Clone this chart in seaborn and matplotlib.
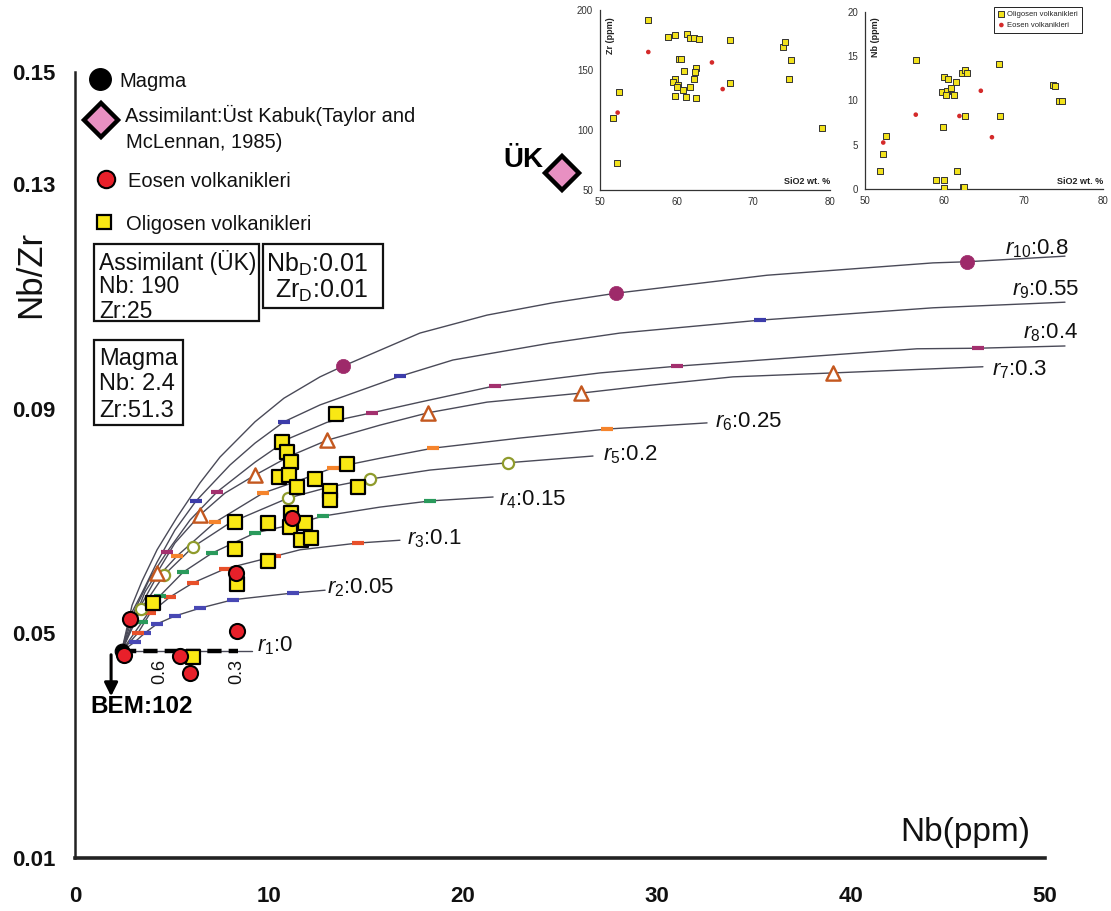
import numpy as np
import pandas as pd
import matplotlib
matplotlib.use("Agg")
import matplotlib.pyplot as plt
import seaborn as sns
from matplotlib.patches import Rectangle
from matplotlib.lines import Line2D
from matplotlib.ticker import FixedLocator

# ---------------- data ----------------
magma_nb = [2.4]
magma_ratio = [0.0468]

eosen_nb = [2.84, 8.35, 2.53, 5.41, 5.93, 11.19, 8.30]
eosen_ratio = [0.0526, 0.0504, 0.0462, 0.0460, 0.0429, 0.0706, 0.0608]

oligo_nb = [13.45, 10.67, 10.93, 11.13, 10.52, 11.03, 11.44, 12.37, 14.02, 13.14, 13.14, 14.59,
            8.25, 9.95, 11.13, 11.08, 11.86, 11.65, 12.16, 8.25, 9.95, 8.35, 4.02, 6.08]
oligo_ratio = [0.0891, 0.0841, 0.0823, 0.0805, 0.0779, 0.0782, 0.0761, 0.0775, 0.0802, 0.0754, 0.0738, 0.0761,
               0.0698, 0.0697, 0.0714, 0.0690, 0.0697, 0.0666, 0.0670, 0.0650, 0.0629, 0.0588, 0.0554, 0.0458]

# AFC model curves (Nb ppm, Nb/Zr)
r1_nb = [2.4, 9.1]
r1_ratio = [0.0468, 0.0468]
r2_nb = [2.4, 3.09, 3.61, 4.23, 5.15, 6.44, 8.14, 11.24, 12.89]
r2_ratio = [0.0468, 0.0485, 0.0501, 0.0517, 0.0531, 0.0545, 0.0560, 0.0572, 0.0577]
r3_nb = [2.4, 3.25, 3.87, 4.90, 6.08, 7.73, 9.90, 11.60, 14.59, 16.75]
r3_ratio = [0.0468, 0.0501, 0.0536, 0.0565, 0.0590, 0.0615, 0.0634, 0.0649, 0.0661, 0.0666]
r4_nb = [2.4, 3.45, 4.38, 5.57, 7.06, 9.28, 11.60, 12.78, 15.72, 18.30, 21.55]
r4_ratio = [0.0468, 0.0520, 0.0567, 0.0609, 0.0643, 0.0679, 0.0697, 0.0709, 0.0725, 0.0736, 0.0743]
r5_nb = [2.4, 3.40, 4.59, 6.08, 7.99, 10.98, 13.14, 15.21, 18.30, 22.32, 26.70]
r5_ratio = [0.0468, 0.0543, 0.0604, 0.0654, 0.0697, 0.0741, 0.0761, 0.0775, 0.0791, 0.0804, 0.0816]
r6_nb = [2.4, 3.35, 4.12, 5.26, 7.22, 9.69, 11.60, 13.30, 15.72, 18.45, 22.94, 27.42, 32.58]
r6_ratio = [0.0468, 0.0547, 0.0595, 0.0638, 0.0698, 0.0750, 0.0773, 0.0795, 0.0812, 0.0830, 0.0848, 0.0864, 0.0875]
r7_nb = [2.4, 3.09, 3.61, 4.23, 5.15, 6.44, 7.73, 9.28, 11.08, 12.99, 15.72, 18.20, 21.24, 26.08,
         29.64, 33.92, 39.07, 46.80]
r7_ratio = [0.0468, 0.0529, 0.0574, 0.0608, 0.0661, 0.0711, 0.0750, 0.0782, 0.0816, 0.0844, 0.0871, 0.0893,
            0.0912, 0.0928, 0.0942, 0.0957, 0.0964, 0.0975]
r8_nb = [2.4, 3.09, 3.87, 4.74, 5.93, 7.32, 9.28, 11.08, 12.99, 15.31, 17.78, 21.65, 27.06, 31.03,
         37.37, 43.40, 46.55, 51.03]
r8_ratio = [0.0468, 0.0542, 0.0599, 0.0645, 0.0702, 0.0752, 0.0805, 0.0848, 0.0876, 0.0893, 0.0912, 0.0941,
            0.0964, 0.0976, 0.0992, 0.1007, 0.1008, 0.1012]
r9_nb = [2.4, 2.94, 3.45, 4.23, 5.15, 6.24, 7.99, 9.28, 10.77, 12.63, 16.75, 19.48, 24.48, 28.09,
         35.31, 44.23, 51.03]
r9_ratio = [0.0468, 0.0538, 0.0572, 0.0627, 0.0684, 0.0736, 0.0800, 0.0839, 0.0877, 0.0907, 0.0958, 0.0987,
            0.1017, 0.1035, 0.1058, 0.1080, 0.1090]
r10_nb = [2.4, 2.94, 3.45, 4.23, 5.26, 6.44, 7.47, 9.28, 10.77, 12.63, 13.81, 17.78, 21.24, 24.64,
          27.89, 35.67, 44.23, 45.98, 51.03]
r10_ratio = [0.0468, 0.0550, 0.0593, 0.0649, 0.0707, 0.0768, 0.0814, 0.0877, 0.0919, 0.0957, 0.0976, 0.1035,
             0.1067, 0.1089, 0.1106, 0.1138, 0.1160, 0.1162, 0.1172]

curve_ids = [1, 2, 3, 4, 5, 6, 7, 8, 9, 10]
curve_r = ["0", "0.05", "0.1", "0.15", "0.2", "0.25", "0.3", "0.4", "0.55", "0.8"]
curve_label_nb = [9.38, 12.99, 17.11, 21.86, 27.22, 32.99, 47.27, 48.87, 48.30, 47.94]
curve_label_ratio = [0.0478, 0.0581, 0.0668, 0.0739, 0.0818, 0.0878, 0.0969, 0.1035, 0.1112, 0.1186]

# f-step marks along the curves
r1_step_nb = [2.4, 8.4]
r2_step_nb = [3.09, 3.61, 4.23, 5.15, 6.44, 8.14, 11.24]
r2_step_ratio = [0.0485, 0.0501, 0.0517, 0.0531, 0.0545, 0.0560, 0.0572]
r3_step_nb = [3.25, 3.87, 4.90, 6.08, 7.73, 10.31, 14.59]
r3_step_ratio = [0.0501, 0.0536, 0.0565, 0.0590, 0.0615, 0.0638, 0.0661]
r4_step_nb = [3.45, 4.38, 5.57, 7.06, 9.28, 12.78, 18.30]
r4_step_ratio = [0.0520, 0.0567, 0.0609, 0.0643, 0.0679, 0.0709, 0.0736]
r6_step_nb = [5.26, 7.22, 9.69, 13.30, 18.45, 27.42]
r6_step_ratio = [0.0638, 0.0698, 0.0750, 0.0795, 0.0830, 0.0864]
r8_step_nb = [4.74, 7.32, 15.31, 21.65, 31.03, 46.55]
r8_step_ratio = [0.0645, 0.0752, 0.0893, 0.0941, 0.0976, 0.1008]
r9_step_nb = [6.24, 10.77, 16.75, 35.31]
r9_step_ratio = [0.0736, 0.0877, 0.0958, 0.1058]
r5_circle_nb = [3.40, 4.59, 6.08, 10.98, 15.21, 22.32]
r5_circle_ratio = [0.0543, 0.0604, 0.0654, 0.0741, 0.0775, 0.0804]
r7_tri_nb = [4.23, 6.44, 9.28, 12.99, 18.20, 26.08, 39.07]
r7_tri_ratio = [0.0608, 0.0711, 0.0782, 0.0844, 0.0893, 0.0928, 0.0964]
r10_dot_nb = [13.81, 27.89, 45.98]
r10_dot_ratio = [0.0976, 0.1106, 0.1162]

f_labels = ["0.6", "0.3"]
f_label_nb = [4.38, 8.35]
f_label_ratio = [0.0433, 0.0433]

# inset data
in1_oligo_sio2 = [56.3, 58.9, 59.8, 61.3, 61.7, 62.2, 62.9, 67.0, 73.9, 74.1, 74.9, 74.6, 79.0, 60.3, 60.5, 60.9,
                  62.5, 62.4, 62.2, 59.8, 59.5, 60.2, 60.1, 60.8, 61.8, 67.0, 59.8, 61.2, 62.5, 52.5, 51.7, 52.2]
in1_oligo_zr = [191.3, 177.9, 179.5, 179.8, 176.7, 176.7, 175.6, 175.0, 168.9, 173.4, 158.5, 142.5, 101.3, 159.3,
                159.3, 149.3, 151.5, 148.7, 142.5, 142.5, 140.3, 137.5, 135.5, 133.6, 136.1, 139.2, 128.5, 127.1,
                126.5, 131.3, 110.3, 72.4]
in1_eosen_sio2 = [56.3, 64.6, 66.0, 52.3]
in1_eosen_zr = [165.0, 156.3, 134.1, 114.5]

in2_oligo_sio2 = [56.4, 51.9, 52.3, 52.7, 59.7, 60.0, 60.5, 60.3, 60.2, 60.9, 61.2, 61.5, 62.2, 62.6, 62.8, 66.9,
                  62.6, 67.0, 59.8, 58.9, 59.9, 59.9, 61.6, 62.3, 62.5, 73.7, 74.0, 74.5, 74.8]
in2_oligo_nb = [14.6, 2.0, 4.0, 6.0, 11.0, 12.6, 12.4, 11.1, 10.6, 11.4, 10.6, 12.1, 13.1, 13.4, 13.1, 14.1,
                8.3, 8.3, 7.05, 1.05, 1.05, 0.1, 2.0, 0.2, 0.2, 11.7, 11.6, 10.0, 10.0]
in2_eosen_sio2 = [56.4, 52.3, 61.9, 64.6, 66.0]
in2_eosen_nb = [8.4, 5.25, 8.25, 11.1, 5.85]

x_ticks = [0, 10, 20, 30, 40, 50]
x_minor = [5, 15, 25, 35, 45]
y_ticks = [0.01, 0.05, 0.09, 0.13, 0.15]
y_tick_labels = ["0.01", "0.05", "0.09", "0.13", "0.15"]
y_minor = list(np.round(np.arange(0.01, 0.1501, 0.004), 4))

legend_labels = ["Magma", "Assimilant:Üst Kabuk(Taylor and", "McLennan, 1985)",
                 "Eosen volkanikleri", "Oligosen volkanikleri"]

# ---------------- styling ----------------
sns.set_theme(style="white")
plt.rcParams["font.family"] = ["Liberation Sans", "DejaVu Sans"]
plt.rcParams["mathtext.fontset"] = "custom"
plt.rcParams["mathtext.rm"] = "Liberation Sans"
plt.rcParams["mathtext.it"] = "Liberation Sans:italic"
plt.rcParams["mathtext.bf"] = "Liberation Sans:bold"

W, H = 1111, 911
fig = plt.figure(figsize=(W / 100, H / 100), dpi=100)
fig.patch.set_facecolor("white")


def fp(px, py):
    return (px / W, 1 - py / H)


ax = fig.add_axes([75 / W, 1 - 858 / H, 970 / W, 786 / H])
ax.set_facecolor("white")
ax.set_xlim(0, 50)
ax.set_ylim(0.01, 0.15)

CURVE_C = "#4a4a58"
names = [r1_nb, r2_nb, r3_nb, r4_nb, r5_nb, r6_nb, r7_nb, r8_nb, r9_nb, r10_nb]
ratios = [r1_ratio, r2_ratio, r3_ratio, r4_ratio, r5_ratio, r6_ratio, r7_ratio, r8_ratio, r9_ratio, r10_ratio]
rows = []
for cid, xs, ys in zip(curve_ids, names, ratios):
    for x, y in zip(xs, ys):
        rows.append({"curve": cid, "Nb": x, "NbZr": y})
curves_df = pd.DataFrame(rows)
sns.lineplot(data=curves_df, x="Nb", y="NbZr", units="curve", estimator=None, sort=False,
             color=CURVE_C, linewidth=1.0, ax=ax, legend=False, clip_on=False, zorder=2)

# thick dashed f-steps on r1
ax.plot(r1_step_nb, [magma_ratio[0]] * 2, color="black", lw=3.2, dashes=(3.2, 1.6), zorder=3,
        solid_capstyle="butt")

step_sets = [(r2_step_nb, r2_step_ratio, "#4848b4"), (r3_step_nb, r3_step_ratio, "#e8502a"),
             (r4_step_nb, r4_step_ratio, "#2a9a5c"), (r6_step_nb, r6_step_ratio, "#f5842c"),
             (r8_step_nb, r8_step_ratio, "#a3306e"), (r9_step_nb, r9_step_ratio, "#3c3caa")]
for xs, ys, c in step_sets:
    ax.plot(xs, ys, ls="none", marker="_", ms=8, mew=3, color=c, zorder=3)

sns.scatterplot(x=r5_circle_nb, y=r5_circle_ratio, marker="o", s=65, facecolor="white",
                edgecolor="#8f9b2c", linewidth=1.6, ax=ax, zorder=4)
sns.scatterplot(x=r7_tri_nb, y=r7_tri_ratio, marker="^", s=105, facecolor="white",
                edgecolor="#c4581f", linewidth=1.7, ax=ax, zorder=4)
sns.scatterplot(x=r10_dot_nb, y=r10_dot_ratio, marker="o", s=105, color="#9e2a6a",
                edgecolor="#9e2a6a", linewidth=0.5, ax=ax, zorder=4)

# samples
sns.scatterplot(x=magma_nb, y=magma_ratio, marker="o", s=110, color="black", edgecolor="black", ax=ax, zorder=5)
sns.scatterplot(x=oligo_nb, y=oligo_ratio, marker="s", s=92, color="#f9e814", edgecolor="black",
                linewidth=1.6, ax=ax, zorder=6)
sns.scatterplot(x=eosen_nb, y=eosen_ratio, marker="o", s=118, color="#e8202a", edgecolor="black",
                linewidth=1.5, ax=ax, zorder=7)

# curve labels
for cid, rv, lx, ly in zip(curve_ids, curve_r, curve_label_nb, curve_label_ratio):
    ax.text(lx, ly, r"$r_{%d}$:%s" % (cid, rv), fontsize=16, ha="left", va="center", color="#111111",
            clip_on=False, zorder=8)

for lab, lx, ly in zip(f_labels, f_label_nb, f_label_ratio):
    ax.text(lx, ly, lab, fontsize=13, rotation=90, ha="center", va="center", color="#111111")

# BEM arrow
ax.annotate("", xy=(1.86, 0.0388), xytext=(1.86, 0.0462),
            arrowprops=dict(arrowstyle="-|>", lw=2.2, color="black", mutation_scale=20, shrinkA=0, shrinkB=0))
ax.text(0.77, 0.0369, "BEM:102", fontsize=17.5, fontweight="bold", ha="left", va="center", color="black")

# axes styling
for s in ["top", "right"]:
    ax.spines[s].set_visible(False)
ax.spines["left"].set_linewidth(1.8)
ax.spines["left"].set_color("#222222")
ax.spines["bottom"].set_linewidth(2.6)
ax.spines["bottom"].set_color("#222222")
ax.set_xticks(x_ticks)
ax.set_xticklabels([str(t) for t in x_ticks], fontsize=16, fontweight="bold")
ax.xaxis.set_minor_locator(FixedLocator(x_minor))
ax.set_yticks(y_ticks)
ax.set_yticklabels(y_tick_labels, fontsize=16, fontweight="bold")
ax.yaxis.set_minor_locator(FixedLocator(y_minor))
ax.tick_params(axis="x", which="both", direction="out", length=5, width=1.2, pad=15, colors="#111111")
ax.tick_params(axis="y", which="both", direction="out", length=5, width=1.2, pad=9, colors="#111111")
ax.set_xlabel("Nb(ppm)", fontsize=24, color="#111111")
ax.xaxis.set_label_coords(0.985, 0.033)
ax.xaxis.label.set_ha("right")
ax.xaxis.label.set_va("center")
ax.set_ylabel("Nb/Zr", fontsize=25, color="#111111")
ax.yaxis.set_label_coords(-0.046, 0.742)
ax.yaxis.label.set_va("center")

# ---------------- manual legend (top left) ----------------
legend_marks = [
    dict(pos=(100, 79), marker="o", ms=15.5, mfc="black", mec="black", mew=1),
    dict(pos=(101, 120), marker="D", ms=17, mfc="#e890c2", mec="black", mew=3.2),
    dict(pos=(106, 179), marker="o", ms=12.5, mfc="#e8202a", mec="black", mew=1.5),
    dict(pos=(104, 222), marker="s", ms=10, mfc="#f9e814", mec="black", mew=1.6),
]
for m in legend_marks:
    x, y = fp(*m["pos"])
    fig.add_artist(Line2D([x], [y], transform=fig.transFigure, marker=m["marker"], ms=m["ms"],
                          mfc=m["mfc"], mec=m["mec"], mew=m["mew"], ls="none"))
legend_text_pos = [(119, 87), (125, 122), (126, 148), (128, 187), (126, 230)]
for lab, (px, py) in zip(legend_labels, legend_text_pos):
    x, y = fp(px, py)
    fig.text(x, y, lab, fontsize=14.5, ha="left", va="baseline", color="#111111")

# info boxes
boxes = [((94, 244), (259, 321)), ((263, 244), (383, 308)), ((94, 340), (183, 425))]
for (x0, y0), (x1, y1) in boxes:
    bx, by = fp(x0, y1)
    fig.add_artist(Rectangle((bx, by), (x1 - x0) / W, (y1 - y0) / H, transform=fig.transFigure,
                             fill=False, ec="#111111", lw=1.6))
box_texts = [("Assimilant (ÜK)", 99, 270, 16.5), ("Nb: 190", 99, 293, 16.5), ("Zr:25", 99, 318, 16.5),
             (r"Nb$_{\mathrm{D}}$:0.01", 266, 272, 18), (r"Zr$_{\mathrm{D}}$:0.01", 275, 298, 18),
             ("Magma", 99, 365, 17), ("Nb: 2.4", 99, 390, 17), ("Zr:51.3", 99, 417, 17)]
for s, px, py, fs in box_texts:
    x, y = fp(px, py)
    fig.text(x, y, s, fontsize=fs, ha="left", va="baseline", color="#111111")

# ÜK assimilant marker
x, y = fp(503, 167)
fig.text(x, y, "ÜK", fontsize=20, fontweight="bold", ha="left", va="baseline", color="black")
x, y = fp(562, 173)
fig.add_artist(Line2D([x], [y], transform=fig.transFigure, marker="D", ms=17, mfc="#e890c2",
                      mec="black", mew=3.2, ls="none"))

# ---------------- insets ----------------
def style_inset(a, ylabel, yticks, ylim):
    a.set_facecolor("white")
    a.patch.set_alpha(0)
    a.set_xlim(50, 80)
    a.set_ylim(*ylim)
    a.set_xticks([50, 60, 70, 80])
    a.set_yticks(yticks)
    for s in ["top", "right"]:
        a.spines[s].set_visible(False)
    for s in ["left", "bottom"]:
        a.spines[s].set_linewidth(0.9)
        a.spines[s].set_color("#333333")
    a.tick_params(axis="both", direction="out", length=3, width=0.8, labelsize=7, pad=2, colors="#333333")
    a.set_xlabel("")
    a.set_ylabel(ylabel, fontsize=6.5, fontweight="bold", color="#222222")
    a.yaxis.set_label_coords(0.045, 0.86)
    a.yaxis.label.set_va("center")
    a.text(1.0, 0.045, "SiO2 wt. %", transform=a.transAxes, fontsize=6.5, fontweight="bold",
           ha="right", va="center", color="#222222")


ins1 = fig.add_axes([600 / W, 1 - 190 / H, 230 / W, 180 / H])
sns.scatterplot(x=in1_oligo_sio2, y=in1_oligo_zr, marker="s", s=15, color="#f2e21c", edgecolor="#333333",
                linewidth=0.7, ax=ins1, zorder=3)
sns.scatterplot(x=in1_eosen_sio2, y=in1_eosen_zr, marker="o", s=11, color="#d42a2a", edgecolor="none",
                ax=ins1, zorder=4)
style_inset(ins1, "Zr (ppm)", [50, 100, 150, 200], (50, 200))

ins2 = fig.add_axes([865 / W, 1 - 189 / H, 238 / W, 177 / H])
sns.scatterplot(x=in2_oligo_sio2, y=in2_oligo_nb, marker="s", s=15, color="#f2e21c", edgecolor="#333333",
                linewidth=0.7, ax=ins2, zorder=3, label="Oligosen volkanikleri")
sns.scatterplot(x=in2_eosen_sio2, y=in2_eosen_nb, marker="o", s=11, color="#d42a2a", edgecolor="none",
                ax=ins2, zorder=4, label="Eosen volkanikleri")
style_inset(ins2, "Nb (ppm)", [0, 5, 10, 15, 20], (0, 20))
leg = ins2.legend(loc="upper right", bbox_to_anchor=(0.912, 1.03), fontsize=5.5, frameon=True, fancybox=False,
                  edgecolor="#222222", framealpha=1, handletextpad=0.3, borderpad=0.5, labelspacing=0.5,
                  handlelength=1.0, borderaxespad=0)
leg.get_frame().set_linewidth(0.7)

fig.savefig("out.png", dpi=100, facecolor="white")
